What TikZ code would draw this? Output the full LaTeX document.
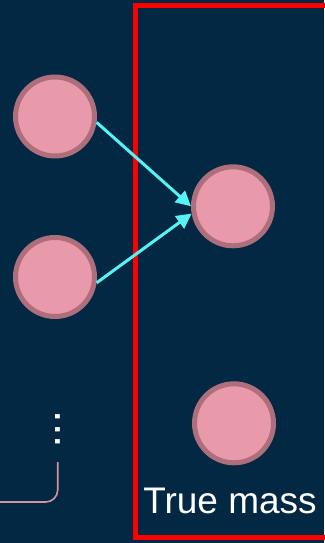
\documentclass[tikz,border=0pt]{standalone}
\usepackage{fontspec}
\setmainfont{Liberation Sans}
\usetikzlibrary{arrows.meta}
\definecolor{navybg}{HTML}{022843}
\definecolor{nodepink}{HTML}{E899AA}
\definecolor{nodeedge}{HTML}{AE6E7C}
\definecolor{edgecyan}{HTML}{55F3F5}
\definecolor{bracepink}{HTML}{D792A2}
\tikzset{
  neuron/.style={circle, fill=nodepink, draw=nodeedge, line width=5pt, minimum size=79pt, inner sep=0pt},
  link/.style={edgecyan, line width=3pt, -{Triangle[length=15pt,width=15pt]}},
}

\begin{document}
\begin{tikzpicture}[x=1pt,y=-1pt]
  \useasboundingbox (0,0) rectangle (324,543);
  \fill[navybg] (0,0) rectangle (324,543);
  % frame, open on the right (runs off the page)
  \draw[red, line width=5pt] (330,5.5) -- (135,5.5) -- (135,537.5) -- (330,537.5);
  \node[neuron] (in1) at (55,116.5) {};
  \node[neuron] (in2) at (55,277) {};
  \node[neuron] (out1) at (233,206.3) {};
  \node[neuron] (out2) at (234,423.3) {};
  \draw[link] (in1.-8) -- (out1.180);
  \draw[link] (in2.-8) -- (out1.190);
  \node[white, font=\fontsize{45}{45}\selectfont, rotate=-90, inner sep=0pt] (dots) at (57.7,429.5) {...};
  \coordinate (brtop) at (57.7,462);
  \coordinate (brend) at (0,502);
  \draw[bracepink, line width=1.6pt, rounded corners=12pt] (brtop) |- (brend);
  \node[white, font=\fontsize{37}{40}\selectfont, anchor=base, inner sep=0pt] (mass) at (230,513) {True mass};
\end{tikzpicture}
\end{document}
